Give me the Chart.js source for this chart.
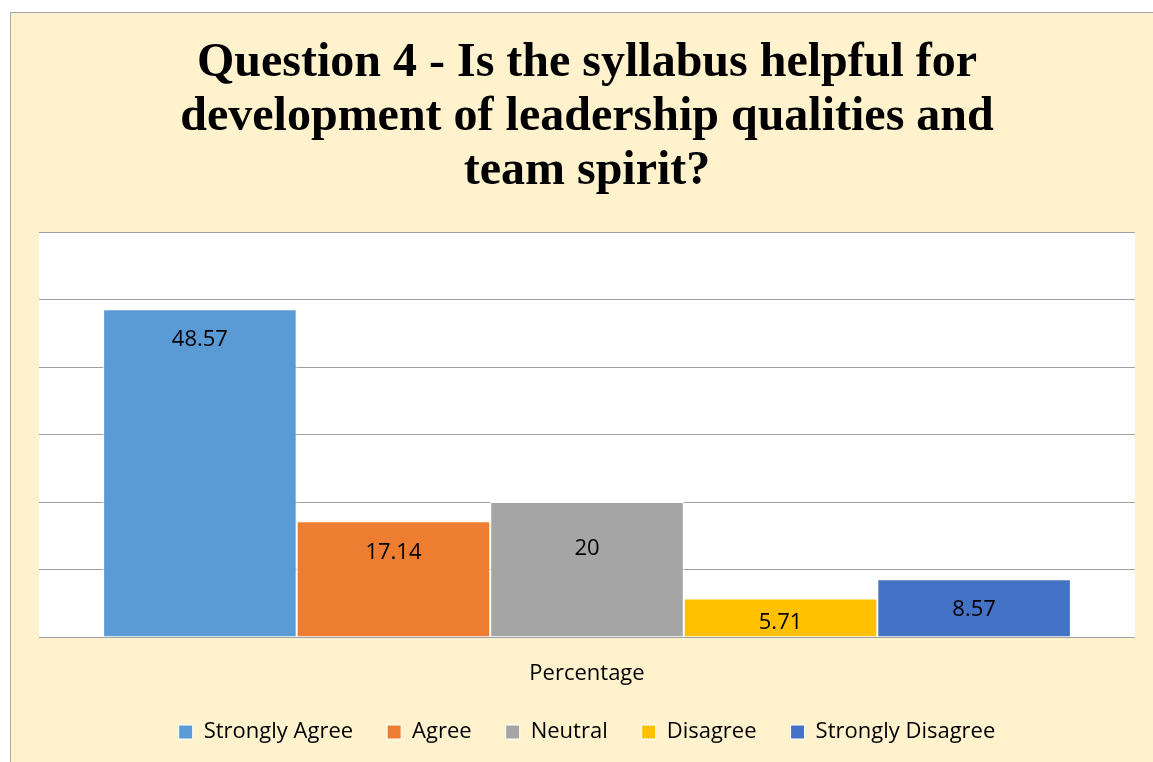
<!DOCTYPE html>
<html>
<head>
<meta charset="utf-8">
<script src="https://cdn.jsdelivr.net/npm/chart.js@4"></script>
<style>
  html, body { margin: 0; padding: 0; background: #fff; }
  #wrap { width: 1153px; height: 762px; }
</style>
</head>
<body>
<div id="wrap"><canvas id="bar-chart"></canvas></div>
<script>
const categories = ['Percentage'];
const responses = ['Strongly Agree', 'Agree', 'Neutral', 'Disagree', 'Strongly Disagree'];
const percentages = [48.57, 17.14, 20, 5.71, 8.57];
const barColors = ['#5B9BD5', '#ED7D31', '#A5A5A5', '#FFC000', '#4472C4'];
const labelOffsets = [31, 31, 47, 31, 31];
const yMax = 60;
const yStep = 10;
const textFont = 'Open Sans';

// cream panel behind everything, white plot area
const backdrop = {
  id: 'backdrop',
  beforeDraw(chart) {
    const { ctx, chartArea: a } = chart;
    ctx.save();
    ctx.fillStyle = '#fff';
    ctx.fillRect(0, 0, chart.width, chart.height);
    ctx.fillStyle = '#FFF2CC';
    ctx.fillRect(10.5, 12.5, chart.width, chart.height);
    ctx.strokeStyle = '#A6A6A6';
    ctx.lineWidth = 1;
    ctx.strokeRect(10.5, 12.5, chart.width, chart.height);
    ctx.fillStyle = '#fff';
    ctx.fillRect(a.left, a.top, a.right - a.left, a.bottom - a.top);
    ctx.restore();
  }
};

// value labels just inside the top of each bar
const valueLabels = {
  id: 'valueLabels',
  afterDatasetsDraw(chart) {
    const { ctx } = chart;
    ctx.save();
    ctx.font = '22px "' + textFont + '"';
    ctx.fillStyle = '#000';
    ctx.textAlign = 'center';
    ctx.textBaseline = 'middle';
    chart.data.datasets.forEach((ds, i) => {
      chart.getDatasetMeta(i).data.forEach((bar, j) => {
        const y = Math.min(bar.y + labelOffsets[i], bar.base - 14);
        ctx.fillText(String(ds.data[j]), bar.x, y);
      });
    });
    ctx.restore();
  }
};

const ctx = document.getElementById('bar-chart').getContext('2d');
const myChart = new Chart(ctx, {
  type: 'bar',
  data: {
    labels: categories,
    datasets: responses.map((name, i) => ({
      label: name,
      data: [percentages[i]],
      backgroundColor: barColors[i],
      borderColor: '#fff',
      borderWidth: 1,
      categoryPercentage: 0.883,
      barPercentage: 1.0
    }))
  },
  options: {
    responsive: true,
    maintainAspectRatio: false,
    animation: false,
    layout: { padding: { left: 39, right: 18, top: 37, bottom: 9 } },
    plugins: {
      tooltip: { enabled: false },
      title: {
        display: true,
        text: ['Question 4 - Is the syllabus helpful for', 'development of leadership qualities and', 'team spirit?'],
        color: '#000',
        font: { family: 'Liberation Serif', size: 48, weight: 'bold', lineHeight: 1.125 },
        padding: { top: 0, bottom: 33 }
      },
      legend: {
        position: 'bottom',
        labels: {
          color: '#000',
          font: { family: textFont, size: 22 },
          boxWidth: 14,
          boxHeight: 14,
          padding: 34
        }
      }
    },
    scales: {
      x: {
        grid: { display: false, drawTicks: false },
        border: { display: false },
        ticks: { color: '#000', font: { family: textFont, size: 22 }, padding: 24 },
        afterFit(scale) { scale.height = 50; }
      },
      y: {
        min: 0,
        max: yMax,
        ticks: { display: false, stepSize: yStep },
        grid: { color: '#A0A0A0', drawTicks: false },
        border: { display: false }
      }
    }
  },
  plugins: [backdrop, valueLabels]
});
</script>
</body>
</html>
